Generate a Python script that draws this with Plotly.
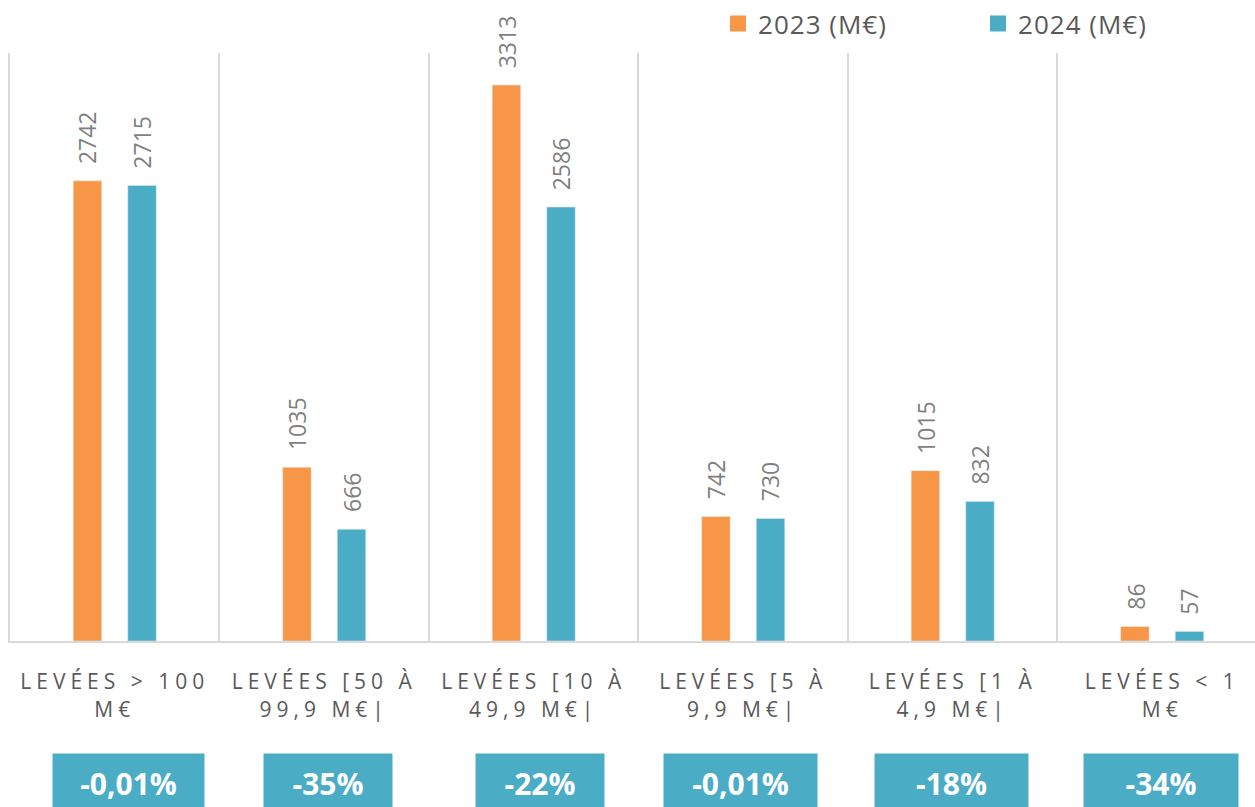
import plotly.graph_objects as go

categories = [
    "LEVÉES > 100 M€",
    "LEVÉES [50 À 99,9 M€|",
    "LEVÉES [10 À 49,9 M€|",
    "LEVÉES [5 À 9,9 M€|",
    "LEVÉES [1 À 4,9 M€|",
    "LEVÉES < 1 M€",
]
tick_lines = [
    ["LEVÉES &gt; 100", "M€"],
    ["LEVÉES [50 À", "99,9 M€|"],
    ["LEVÉES [10 À", "49,9 M€|"],
    ["LEVÉES [5 À", "9,9 M€|"],
    ["LEVÉES [1 À", "4,9 M€|"],
    ["LEVÉES &lt; 1", "M€"],
]
values_2023 = [2742, 1035, 3313, 742, 1015, 86]
values_2024 = [2715, 666, 2586, 730, 832, 57]
variations = ["-0,01%", "-35%", "-22%", "-0,01%", "-18%", "-34%"]
series_names = ["2023 (M€)", "2024 (M€)"]

ORANGE = "#F79646"
TEAL = "#4BACC6"
GRID = "#D9D9D9"
LABEL = "#595959"
DATA = "#7F7F7F"
FONT = "Open Sans"

box_widths = [151, 128, 128, 153, 153, 154]
box_xshift = [14, 4, 6, -3, -1, -1]


def spaced(lines, px=5):
    return "<br>".join(f'<span style="letter-spacing:{px}px">{ln}</span>' for ln in lines)


fig = go.Figure()
fig.add_trace(go.Bar(x=categories, y=values_2023, marker_color=ORANGE, showlegend=False,
                     name=series_names[0], hoverinfo="y"))
fig.add_trace(go.Bar(x=categories, y=values_2024, marker_color=TEAL, showlegend=False,
                     name=series_names[1], hoverinfo="y"))
# legend entries
for nm, col in zip(series_names, [ORANGE, TEAL]):
    fig.add_trace(go.Scatter(x=[None], y=[None], mode="markers",
                             name=f'<span style="letter-spacing:1px">{nm}</span>',
                             marker=dict(symbol="square", size=18, color=col)))

annotations = []
for i, cat in enumerate(categories):
    for vals, dx in ((values_2023, -27), (values_2024, 27)):
        annotations.append(dict(
            x=cat, y=vals[i], xref="x", yref="y", text=str(vals[i]),
            textangle=-90, showarrow=False, xanchor="center", yanchor="bottom",
            xshift=dx, yshift=15, font=dict(family=FONT, size=23, color=DATA)))
    annotations.append(dict(
        x=cat, y=-0.2415, xref="x", yref="paper", text=f"<b>{variations[i]}</b>",
        showarrow=False, xanchor="center", yanchor="middle", xshift=box_xshift[i],
        width=box_widths[i], height=58, borderpad=0, bgcolor=TEAL, align="center",
        valign="middle", font=dict(family=FONT, size=30, color="white")))

fig.update_layout(
    width=1255, height=807,
    margin=dict(l=10, r=0, t=53, b=166, autoexpand=False),
    paper_bgcolor="white", plot_bgcolor="white",
    barmode="group", bargap=0.479, bargroupgap=0.478,
    showlegend=True,
    legend=dict(orientation="h", x=0.5687, y=1.090, xanchor="left", yanchor="top",
                entrywidth=215, entrywidthmode="pixels",
                font=dict(family=FONT, size=26, color=LABEL), bgcolor="rgba(0,0,0,0)"),
    annotations=annotations,
    font=dict(family=FONT),
)
fig.update_xaxes(
    type="category", categoryorder="array", categoryarray=categories,
    range=[-0.5, 5.443], tickmode="array", tickvals=categories,
    ticktext=[spaced(t) for t in tick_lines],
    tickson="boundaries", ticks="", showgrid=True, gridcolor=GRID, gridwidth=2,
    showline=True, linecolor=GRID, linewidth=2, zeroline=False,
    tickfont=dict(family=FONT, size=21, color=LABEL), ticklabelstandoff=21,
    fixedrange=True,
)
fig.update_yaxes(range=[0, 3504], showgrid=False, showticklabels=False, zeroline=False,
                 showline=True, linecolor=GRID, linewidth=2, fixedrange=True)

fig.write_html("out.html", config={"displayModeBar": False},
               post_script="document.body.style.margin='0';")
